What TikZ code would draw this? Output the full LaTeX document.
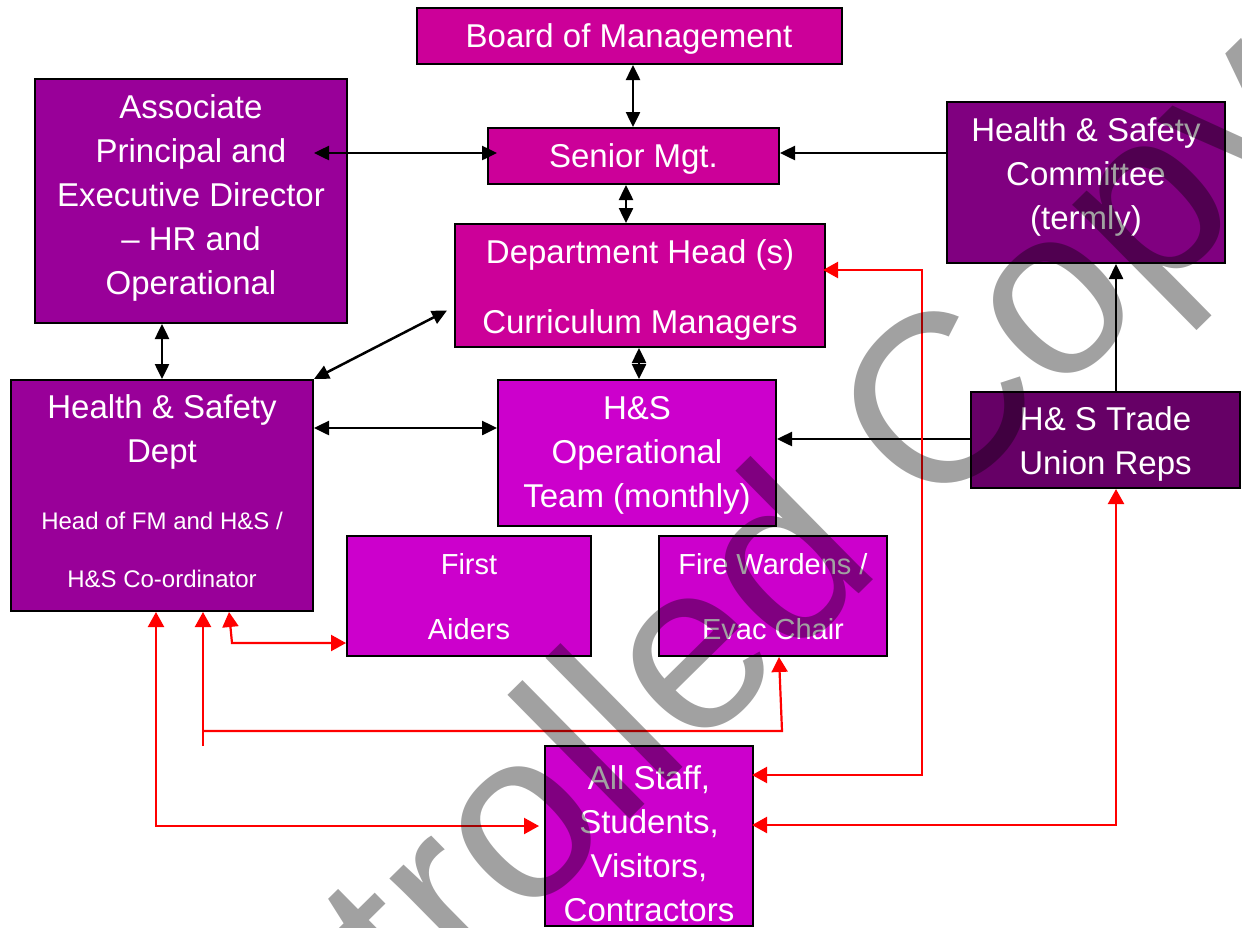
\documentclass[tikz,border=0pt]{standalone}
\usepackage{fontspec}
\setmainfont{Liberation Sans}
\usetikzlibrary{arrows.meta,calc}
\definecolor{cMag}{HTML}{CC0099}
\definecolor{cPur}{HTML}{990099}
\definecolor{cCom}{HTML}{800080}
\definecolor{cTU}{HTML}{660066}
\definecolor{cVio}{HTML}{CC00CC}
\definecolor{cRed}{HTML}{FF0000}
\begin{document}
\begin{tikzpicture}[x=1pt,y=-1pt,
  box/.style={draw=black,line width=2pt,inner sep=0pt},
  txt/.style={text=white,align=center,font=\fontsize{33}{44}\selectfont,inner sep=0pt},
  blk/.style={draw=black,line width=2.5pt,>={Triangle[length=15pt,width=14pt]}},
  redl/.style={draw=cRed,line width=2.2pt,>={Triangle[length=15pt,width=16pt]}}]
\fill[white] (0,0) rectangle (1242,927);
\useasboundingbox (0,0) rectangle (1242,927);
% boxes
\node[box,fill=cMag,minimum width=425pt,minimum height=56pt] (bom) at (629.5,36) {};
\node[box,fill=cPur,minimum width=312pt,minimum height=244pt] (ap) at (191,201) {};
\node[box,fill=cMag,minimum width=291pt,minimum height=56pt] (sm) at (633.5,156) {};
\node[box,fill=cCom,minimum width=278pt,minimum height=161pt] (hsc) at (1086,182.5) {};
\node[box,fill=cMag,minimum width=370pt,minimum height=123pt] (dh) at (640,285.5) {};
\node[box,fill=cPur,minimum width=302pt,minimum height=231pt] (hsd) at (162,495.5) {};
\node[box,fill=cVio,minimum width=278pt,minimum height=146pt] (op) at (637,453) {};
\node[box,fill=cTU,minimum width=269pt,minimum height=96pt] (tu) at (1105.5,440) {};
\node[box,fill=cVio,minimum width=244pt,minimum height=120pt] (fa) at (469,596) {};
\node[box,fill=cVio,minimum width=228pt,minimum height=120pt] (fw) at (773,596) {};
\node[box,fill=cVio,minimum width=208pt,minimum height=180pt] (as) at (649,836) {};
% texts
\node[txt] (tbom) at (629,39) {Board of Management};
\node[txt] (tap) at (191,198) {Associate\\Principal and\\Executive Director\\– HR and\\Operational};
\node[txt] (tsm) at (633.5,159) {Senior Mgt.};
\node[txt] (thsc) at (1086,177) {Health \& Safety\\Committee\\(termly)};
\node[txt] (tdh) at (640,290) {Department Head (s)\\[26pt]Curriculum Managers};
\node[txt] (thsd1) at (162,432) {Health \& Safety\\Dept};
\node[txt,font=\fontsize{24}{58}\selectfont] (thsd2) at (162,550) {Head of FM and H\&S /\\H\&S Co-ordinator};
\node[txt] (top) at (637,455) {H\&S\\Operational\\Team (monthly)};
\node[txt] (ttu) at (1105.5,444) {H\& S Trade\\Union Reps};
\node[txt,font=\fontsize{29}{65}\selectfont] (tfa) at (469,597) {First\\Aiders};
\node[txt,font=\fontsize{29}{65}\selectfont] (tfw) at (773,597) {Fire Wardens /\\Evac Chair};
\node[txt] (tas) at (649,844) {All Staff,\\Students,\\Visitors,\\Contractors};
% black connectors
\draw[blk,<->] (633,0 |- bom.south) -- (633,0 |- sm.north);
\draw[blk,<->,shorten <=-34pt,shorten >=-10pt] (ap.east |- 0,153) -- (sm.west |- 0,153);
\draw[blk,<->] (626,0 |- sm.south) -- (626,0 |- dh.north);
\draw[blk,<->] (639,0 |- dh.south) -- (639,0 |- op.north);
\draw[blk,<->] (hsd.north east) -- ($(dh.west)+(-7,25)$);
\draw[blk,<->] (162,0 |- ap.south) -- (162,0 |- hsd.north);
\draw[blk,<->] (hsd.east |- 0,428) -- (op.west |- 0,428);
\draw[blk,->] (hsc.west |- 0,153) -- (sm.east |- 0,153);
\draw[blk,->] (1116,0 |- tu.north) -- (1116,0 |- hsc.south);
\draw[blk,->] (tu.west |- 0,439) -- (op.east |- 0,439);
% red connectors
\coordinate (r1a) at (922,270);
\coordinate (r1b) at (922,775);
\draw[redl,<->,shorten <=-3pt,shorten >=-2pt] (dh.east |- r1a) -- (r1a) -- (r1b) -- (as.east |- r1b);
\coordinate (r2a) at (1116,825);
\draw[redl,<->,shorten >=-2pt] (1116,0 |- tu.south) -- (r2a) -- (as.east |- r2a);
\coordinate (r3a) at (156,826);
\draw[redl,<->,shorten >=5pt] (156,0 |- hsd.south) -- (r3a) -- (as.west |- r3a);
\coordinate (r4a) at (203,746);
\coordinate (r4b) at (203,731);
\coordinate (r4c) at (782,731);
\draw[redl,->] (r4a) -- (203,0 |- hsd.south);
\draw[redl,->] (r4b) -- (r4c) -- (779,0 |- fw.south);
\coordinate (r5a) at (232,643);
\draw[redl,<->] (229,0 |- hsd.south) -- (r5a) -- (fa.west |- r5a);
% watermark
\begin{scope}
\clip (0,0) rectangle (1242,927);
\node[rotate=44.6,text=black,text opacity=0.37,font=\fontsize{240}{240}\selectfont,inner sep=0pt] (wm) at (585,777) {Uncontrolled Copy};
\end{scope}
\end{tikzpicture}
\end{document}
